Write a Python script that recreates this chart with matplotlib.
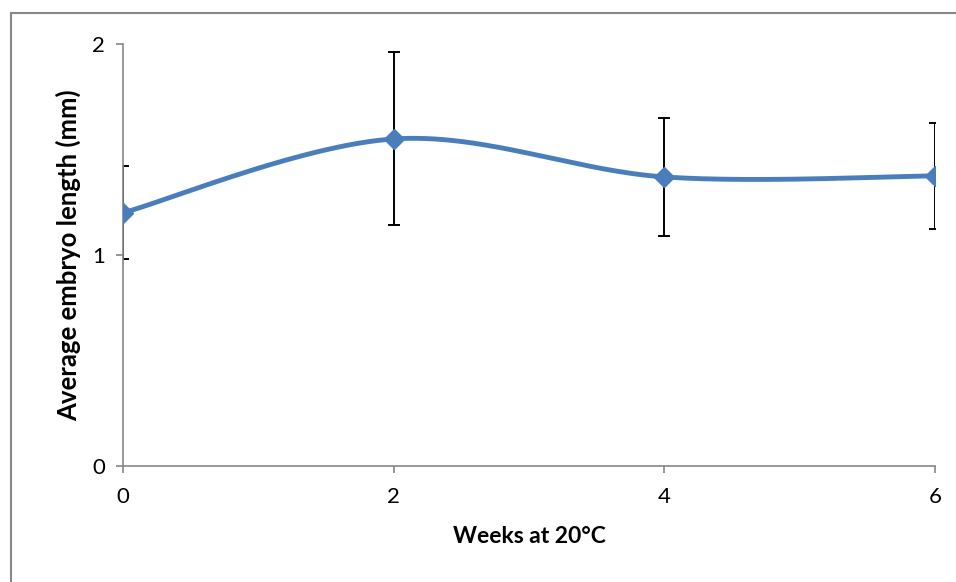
import numpy as np
import matplotlib.pyplot as plt
from matplotlib.patches import Rectangle

# embryo length over time at 20 C
weeks = [0, 2, 4, 6]
length_mm = [1.20, 1.55, 1.37, 1.375]
err_mm = [0.22, 0.41, 0.28, 0.25]

plt.rcParams['font.family'] = ['Lato', 'DejaVu Sans']


def smooth_curve(x, y, n=60):
    # catmull-rom through the points, like a spreadsheet "smoothed line"
    x = np.asarray(x, float)
    y = np.asarray(y, float)
    px = np.concatenate([[x[0]], x, [x[-1]]])
    py = np.concatenate([[y[0]], y, [y[-1]]])
    xs, ys = [], []
    t = np.linspace(0, 1, n)
    for i in range(1, len(px) - 2):
        for p, out in ((px, xs), (py, ys)):
            p0, p1, p2, p3 = p[i - 1], p[i], p[i + 1], p[i + 2]
            out.extend(0.5 * (2 * p1 + (-p0 + p2) * t
                              + (2 * p0 - 5 * p1 + 4 * p2 - p3) * t ** 2
                              + (-p0 + 3 * p1 - 3 * p2 + p3) * t ** 3))
    return np.array(xs), np.array(ys)


fig = plt.figure(figsize=(9.56, 5.82), dpi=100)
ax = fig.add_axes([123 / 956, 1 - 466 / 582, (935 - 123) / 956, (466 - 44) / 582])

ax.errorbar(weeks, length_mm, yerr=err_mm, fmt='none', ecolor='black',
            elinewidth=1.4, capsize=4.3, capthick=1.4, zorder=2)
sx, sy = smooth_curve(weeks, length_mm)
ax.plot(sx, sy, color='#4a7ebb', lw=3.5, zorder=3, solid_capstyle='round')
ax.plot(weeks, length_mm, 'D', color='#4a7ebb', ms=10.5, zorder=4)

ax.set_xlim(0, 6)
ax.set_ylim(0, 2)
ax.set_xticks([0, 2, 4, 6])
ax.set_yticks([0, 1, 2])
for s in ('top', 'right'):
    ax.spines[s].set_visible(False)
for s in ('left', 'bottom'):
    ax.spines[s].set_color('#868686')
    ax.spines[s].set_linewidth(1.2)
ax.tick_params(axis='both', colors='#868686', labelcolor='black',
               labelsize=16, width=1.2, length=5)
ax.tick_params(axis='y', pad=8)
ax.tick_params(axis='x', pad=10)

ax.set_xlabel('Weeks at 20°C', fontsize=16.5, fontweight='bold', labelpad=14)
ax.set_ylabel('Average embryo length (mm)', fontsize=18.5, fontweight='bold', labelpad=8)

# chart frame
fig.patches.append(Rectangle((11 / 956, -0.1), 1.2, 1 - 13 / 582 + 0.1,
                             transform=fig.transFigure, fill=False,
                             edgecolor='#888888', lw=1.5))

fig.savefig('out.png', dpi=100)
